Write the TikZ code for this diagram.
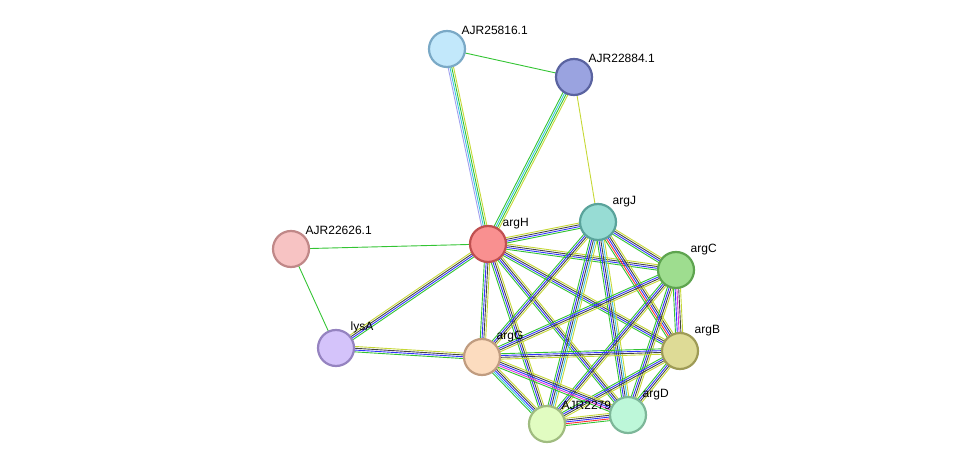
\documentclass[tikz,border=0pt]{standalone}
\usepackage{fontspec}
\setmainfont{Liberation Sans}
\usetikzlibrary{calc,backgrounds}
\definecolor{eg}{HTML}{33C433}
\definecolor{eb}{HTML}{3333FF}
\definecolor{ek}{HTML}{444444}
\definecolor{ey}{HTML}{C6D836}
\definecolor{ec}{HTML}{3BC3E0}
\definecolor{er}{HTML}{FF3333}
\definecolor{em}{HTML}{E033E0}
\definecolor{el}{HTML}{A0A0EE}
\tikzset{
  prot/.style n args={2}{circle,minimum size=36pt,inner sep=0pt,line width=2.2pt,
    /utils/exec={\definecolor{pf}{HTML}{#1}\definecolor{pd}{HTML}{#2}},fill=pf,draw=pd},
  lab/.style={anchor=south west,inner sep=1pt,font=\fontsize{12}{14}\selectfont},
  edge/.style={line width=0.9pt}
}
% color/offset lists for the parallel edge lines
\def\four{eg/-2.7,eb/-0.9,ek/0.9,ey/2.7}
\newcommand\multiedge[3]{%
  \edef\edgelist{#3}%
  \foreach \c/\o in \edgelist
    \draw[edge,\c] ($(#1)!\o pt!90:(#2)$) -- ($(#2)!\o pt!-90:(#1)$);}
\begin{document}
\begin{tikzpicture}[x=1pt,y=-1pt]
\useasboundingbox (0,0) rectangle (975,470);
%proteins
\node[prot={C2E8FB}{7AA9C6},label={[lab]45:AJR25816.1}] (r25816) at (447,49) {};
\node[prot={9AA3E0}{5A63A0},label={[lab]45:AJR22884.1}] (r22884) at (574,77) {};
\node[prot={97DCD4}{5AA39B},label={[lab]45:argJ}] (argJ) at (598,222) {};
\node[prot={F99090}{C05050},label={[lab]45:argH}] (argH) at (488,244) {};
\node[prot={9EDD8F}{5EA44F},label={[lab]45:argC}] (argC) at (676,270) {};
\node[prot={F7C3C3}{C08888},label={[lab]45:AJR22626.1}] (r22626) at (291,249) {};
\node[prot={DEDB96}{9E9B56},label={[lab]45:argB}] (argB) at (680,351) {};
\node[prot={D4C3FA}{9583C0},label={[lab]45:lysA}] (lysA) at (336,348) {};
\node[prot={FCDCBF}{C09C80},label={[lab]45:argG}] (argG) at (482,357) {};
\node[prot={E1FCC1}{A0BC80},label={[lab]45:AJR2279}] (r2279) at (547,424) {};
\node[prot={BDF7D9}{7DB799},label={[lab]45:argD}] (argD) at (628,415) {};
%interactions
\begin{pgfonlayer}{background}
\multiedge{r25816}{r22884}{eg/0}
\multiedge{r25816}{argH}{el/-2.7,ec/-0.9,eg/0.9,ey/2.7}
\multiedge{r22884}{argH}{eg/-2.7,ec/-0.9,eg/0.9,ey/2.7}
\multiedge{r22884}{argJ}{ey/0}
\multiedge{r22626}{argH}{eg/0}
\multiedge{r22626}{lysA}{eg/0}
\multiedge{lysA}{argH}{\four}
\multiedge{lysA}{argG}{\four}
\foreach \t in {argJ,argC,argB,argG,r2279,argD}
  {\multiedge{argH}{\t}{\four}}
\multiedge{argJ}{argC}{\four}
\multiedge{argJ}{argB}{eg/-3.6,er/-1.8,eb/0,ek/1.8,ey/3.6}
\multiedge{argJ}{argG}{\four}
\multiedge{argJ}{r2279}{eg/-3.6,eb/-1.8,ek/0,ec/1.8,ey/3.6}
\multiedge{argJ}{argD}{eg/-3.6,eb/-1.8,ek/0,ec/1.8,ey/3.6}
\multiedge{argC}{argB}{eg/-3.6,eb/-1.8,em/0,ek/1.8,ey/3.6}
\multiedge{argC}{argG}{\four}
\multiedge{argC}{r2279}{\four}
\multiedge{argC}{argD}{\four}
\multiedge{argB}{argG}{\four}
\multiedge{argB}{r2279}{\four}
\multiedge{argB}{argD}{\four}
\multiedge{argG}{r2279}{eg/-3.6,ec/-1.8,eb/0,ek/1.8,ey/3.6}
\multiedge{argG}{argD}{eg/-3.6,em/-1.8,eb/0,ek/1.8,ey/3.6}
\multiedge{r2279}{argD}{eg/-3.6,er/-1.8,eb/0,ek/1.8,ey/3.6}
\end{pgfonlayer}
\end{tikzpicture}
\end{document}
